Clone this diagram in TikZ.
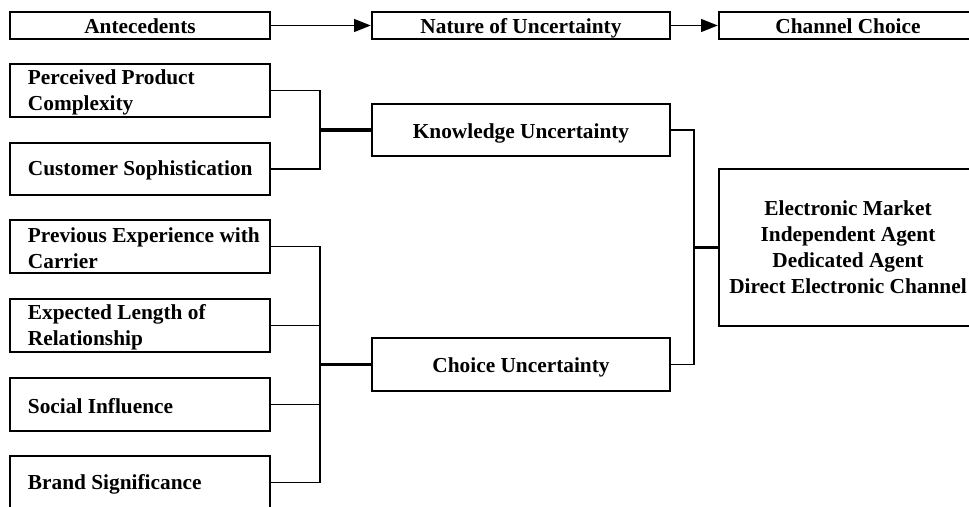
\documentclass[tikz,border=0pt]{standalone}
\usepackage{fontspec}
\setmainfont{Liberation Serif}
\usetikzlibrary{arrows.meta,positioning}
\begin{document}
\begin{tikzpicture}[x=0.75pt,y=-0.75pt,
  box/.style={draw=black,line width=2pt,inner sep=0pt,minimum width=195pt,font=\bfseries\fontsize{16}{19.5}\selectfont,align=center},
  oneline/.style={text height=12pt,text depth=0pt},
  txt/.style={inner sep=0pt,align=left,yshift=-1.2pt,font=\bfseries\fontsize{16}{19.5}\selectfont},
  thinline/.style={line width=1pt},
  thickline/.style={line width=2.3pt},
  arr/.style={line width=1pt,-{Triangle[length=12.5pt,width=9.75pt]}}]
\useasboundingbox (0,0) rectangle (969,506);
\clip (0,0) rectangle (969,506);
% header row
\node[box,oneline,minimum height=20.25pt] (ante) at (140,25.5) {Antecedents};
\node[box,oneline,minimum height=20.25pt,minimum width=223.5pt] (nature) at (521,25.5) {Nature of Uncertainty};
\node[box,oneline,minimum height=20.25pt,minimum width=193.5pt] (chan) at (848,25.5) {Channel Choice};
\draw[arr] (ante) -- (nature);
\draw[arr] (nature) -- (chan);
% antecedents
\node[box,minimum height=39.75pt] (ppc) at (140,90.5) {};
\node[txt,right=14.25pt of ppc.west] (ppct) {Perceived Product\\Complexity};
\node[box,minimum height=39pt] (cs) at (140,169) {};
\node[txt,right=14.25pt of cs.west] (cst) {Customer Sophistication};
\node[box,minimum height=39.75pt] (pe) at (140,246.5) {};
\node[txt,right=14.25pt of pe.west] (pet) {Previous Experience with\\Carrier};
\node[box,minimum height=39.75pt] (el) at (140,325.5) {};
\node[txt,right=14.25pt of el.west] (elt) {Expected Length of\\Relationship};
\node[box,minimum height=39.75pt] (si) at (140,404.5) {};
\node[txt,right=14.25pt of si.west] (sit) {Social Influence};
\node[box,minimum height=39.75pt] (bs) at (140,482.5) {};
\node[txt,right=14.25pt of bs.west] (bst) {Brand Significance};
% uncertainty
\node[box,oneline,minimum height=39pt,minimum width=223.5pt] (ku) at (521,130) {Knowledge Uncertainty};
\node[box,oneline,minimum height=39.75pt,minimum width=223.5pt] (cu) at (521,364.5) {Choice Uncertainty};
% channel choice
\node[box,minimum height=117.75pt,minimum width=193.5pt] (em) at (848,247.5) {Electronic Market\\Independent Agent\\Dedicated Agent\\Direct Electronic Channel};
% junctions
\coordinate (jk) at (320,130);
\coordinate (jc) at (320,364.5);
\coordinate (je) at (694,247.5);
% connectors
\draw[thinline] (ppc.east) -| (jk) |- (cs.east);
\draw[thickline] (jk) -- (ku.west);
\draw[thinline] (pe.east) -| (jc) |- (bs.east);
\draw[thinline] (el.east) -- (el.east -| jc);
\draw[thinline] (si.east) -- (si.east -| jc);
\draw[thickline] (jc) -- (cu.west);
\draw[thinline] (ku.east) -| (je) |- (cu.east);
\draw[thickline] (je) -- (em.west);
\end{tikzpicture}
\end{document}
